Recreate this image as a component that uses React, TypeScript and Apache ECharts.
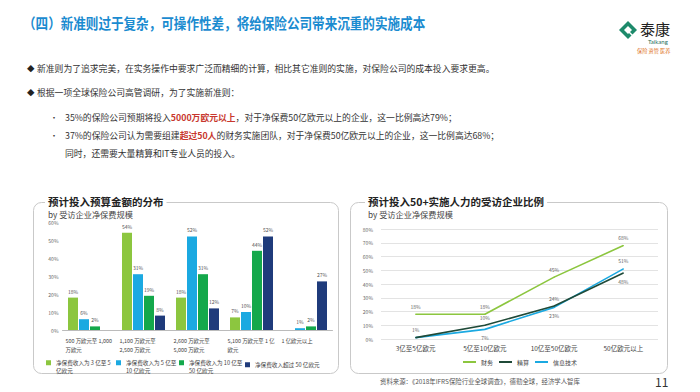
import React, { useEffect, useRef } from 'react';
import * as echarts from 'echarts';

// ---------- data ----------
const budgetCategories = [
  '500 万欧元至 1,000\n万欧元',
  '1,100 万欧元至\n2,500 万欧元',
  '2,600 万欧元至\n5,000 万欧元',
  '5,100 万欧元至 1 亿\n欧元',
  '1 亿欧元以上',
];
const budgetSeriesNames = [
  '净保费收入为 3 亿至 5 亿欧元',
  '净保费收入为 5 亿至 10 亿欧元',
  '净保费收入为 10 亿至 50 亿欧元',
  '净保费收入超过 50 亿欧元',
];
const budgetLegendLabels = [
  '净保费收入为 3 亿至 5\n亿欧元',
  '净保费收入为 5 亿至\n10 亿欧元',
  '净保费收入为 10 亿至\n50 亿欧元',
  '净保费收入超过 50 亿欧元',
];
const premium3to5 = [18, 54, 18, 7, null];
const premium5to10 = [6, 31, 52, 10, 1];
const premium10to50 = [2, 19, 31, 44, 2];
const premiumOver50 = [null, 8, 12, 52, 27];

const sizeCategories = ['3亿至5亿欧元', '5亿至10亿欧元', '10亿至50亿欧元', '50亿欧元以上'];
const staffSeriesNames = ['财务', '精算', '信息技术'];
const finance = [18, 18, 45, 68];
const actuarial = [1, 10, 24, 48];
const itTech = [1, 7, 23, 51];

const budgetTicks = [0, 10, 20, 30, 40, 50, 60];
const staffTicks = [0, 10, 20, 30, 40, 50, 60, 70, 80];

// ---------- styles ----------
const FONT = '"Noto Sans CJK SC", "Noto Sans", sans-serif';
const C_LGREEN = '#8cc63f';
const C_CYAN = '#1ba9e1';
const C_GREEN = '#14a84b';
const C_NAVY = '#1f3b7b';
const C_DARK = '#1f4a38';

// square marker sitting on the first of two text lines (path bbox 5 x 17)
const TOP_SQUARE_ICON = 'path://M0,0h0.01v0.01h-0.01z M0,1.75h5v5h-5z M4.99,16.99h0.01v0.01h-0.01z';

export default function App() {
  const ref = useRef<HTMLDivElement>(null);
  useEffect(() => {
    if (!ref.current) return;
    const chart = echarts.init(ref.current, undefined, { renderer: 'svg' });

    const barColors = [C_LGREEN, C_CYAN, C_GREEN, C_NAVY];
    const barData = [premium3to5, premium5to10, premium10to50, premiumOver50];
    const barSeries = budgetSeriesNames.map((name, i) => ({
      name,
      type: 'bar',
      xAxisIndex: 0,
      yAxisIndex: 0,
      barWidth: 10,
      barGap: '10%',
      itemStyle: { color: barColors[i] },
      label: {
        show: true,
        position: 'top',
        distance: 4,
        fontSize: 5,
        color: '#555',
        fontFamily: FONT,
        formatter: '{c}%',
      },
      data: barData[i].map((v) => (v === null ? '-' : v)),
    }));

    const labelPos = [
      ['top', 'top', 'top', 'top'],
      ['top', 'top', 'top', 'bottom'],
      [null, 'bottom', 'bottom', 'top'],
    ];
    const lineColors = [C_LGREEN, C_DARK, C_CYAN];
    const lineData = [finance, actuarial, itTech];
    const lineSeries = staffSeriesNames.map((name, i) => ({
      name,
      type: 'line',
      xAxisIndex: 1,
      yAxisIndex: 1,
      symbol: 'circle',
      symbolSize: 1,
      showSymbol: true,
      lineStyle: { color: lineColors[i], width: 1.6 },
      itemStyle: { color: lineColors[i] },
      z: 3 - i,
      data: lineData[i].map((v, j) => ({
        value: v,
        label: {
          show: labelPos[i][j] !== null,
          position: labelPos[i][j] || 'top',
          distance: 5,
          fontSize: 5,
          color: '#666',
          fontFamily: FONT,
          formatter: '{c}%',
        },
      })),
    }));

    const legendX = [46, 116, 179, 245];
    const budgetLegends = budgetSeriesNames.map((name, i) => {
      const twoLine = budgetLegendLabels[i].includes('\n');
      return {
        data: [name],
        left: legendX[i],
        top: twoLine ? 358.5 : 360.5,
        padding: 0,
        icon: twoLine ? TOP_SQUARE_ICON : 'rect',
        itemWidth: 5,
        itemHeight: twoLine ? 17 : 5,
        itemGap: 4,
        selectedMode: false,
        formatter: () => budgetLegendLabels[i],
        textStyle: {
          fontSize: 5.6,
          lineHeight: 8.5,
          color: '#444',
          fontFamily: FONT,
        },
      };
    });

    const txt = (x: number, y: number, text: string, extra: any = {}, z = 10) => ({
      type: 'text',
      x,
      y,
      z,
      style: {
        text,
        fontFamily: FONT,
        fontSize: 8.8,
        fill: '#333',
        verticalAlign: 'middle',
        ...extra,
      },
    });

    const option: any = {
      animation: false,
      backgroundColor: '#fff',
      textStyle: { fontFamily: FONT },
      grid: [
        { left: 62.5, top: 222, width: 270, height: 108 },
        { left: 381, top: 229, width: 277, height: 110 },
      ],
      xAxis: [
        {
          type: 'category',
          gridIndex: 0,
          data: budgetCategories,
          axisTick: { show: false },
          axisLine: { lineStyle: { color: '#bbb', width: 1 } },
          axisLabel: {
            interval: 0,
            margin: 6,
            formatter: (v: string) => v.split('\n').map((s) => `{a|${s}}`).join('\n'),
            rich: {
              a: { width: 48, align: 'left', fontSize: 5.4, lineHeight: 9, color: '#444', fontFamily: FONT },
            },
          },
        },
        {
          type: 'category',
          gridIndex: 1,
          data: sizeCategories,
          axisTick: { show: false },
          axisLine: { show: false },
          axisLabel: { interval: 0, margin: 6, fontSize: 6.5, color: '#444', fontFamily: FONT },
        },
      ],
      yAxis: [
        {
          type: 'value',
          gridIndex: 0,
          min: budgetTicks[0],
          max: budgetTicks[budgetTicks.length - 1],
          interval: 10,
          splitLine: { show: false },
          axisLine: { show: false },
          axisTick: { show: false },
          axisLabel: { fontSize: 5, color: '#666', margin: 4, formatter: '{value}%', fontFamily: FONT },
        },
        {
          type: 'value',
          gridIndex: 1,
          min: staffTicks[0],
          max: staffTicks[staffTicks.length - 1],
          interval: 10,
          splitLine: { lineStyle: { color: '#dcdcdc', width: 0.8 } },
          axisLine: { show: false },
          axisTick: { show: false },
          axisLabel: { fontSize: 5, color: '#666', margin: 8, formatter: '{value}%', fontFamily: FONT },
        },
      ],
      legend: [
        ...budgetLegends,
        {
          data: staffSeriesNames,
          left: 463,
          top: 359,
          padding: 0,
          icon: 'rect',
          itemWidth: 13,
          itemHeight: 2,
          itemGap: 6,
          selectedMode: false,
          textStyle: { fontSize: 6, color: '#444', fontFamily: FONT },
        },
      ],
      series: [...barSeries, ...lineSeries],
      graphic: {
        elements: [
          // panels
          {
            type: 'rect',
            z: 1,
            shape: { x: 33.5, y: 202.5, width: 305, height: 171, r: 8 },
            style: { fill: 'none', stroke: '#c9c9c9', lineWidth: 1 },
          },
          {
            type: 'rect',
            z: 1,
            shape: { x: 350.5, y: 202.5, width: 317, height: 171, r: 8 },
            style: { fill: 'none', stroke: '#c9c9c9', lineWidth: 1 },
          },
          txt(45, 201, '预计投入预算金额的分布', {
            fontSize: 10.5, fontWeight: 'bold', fill: '#222', backgroundColor: '#fff', padding: [1, 3],
          }),
          txt(48, 213.5, 'by 受访企业净保费规模', { fontSize: 8.2, fill: '#444' }),
          txt(365, 201, '预计投入50+实施人力的受访企业比例', {
            fontSize: 10.5, fontWeight: 'bold', fill: '#222', backgroundColor: '#fff', padding: [1, 3],
          }),
          txt(368, 213.5, 'by 受访企业净保费规模', { fontSize: 8.2, fill: '#444' }),
          // header title
          {
            type: 'text',
            x: 23,
            y: 23,
            scaleX: 0.88,
            z: 10,
            style: {
              text: '（四）新准则过于复杂，可操作性差，将给保险公司带来沉重的实施成本',
              fontFamily: FONT,
              fontSize: 14.3,
              fontWeight: 'bold',
              fill: '#1a8bd0',
              verticalAlign: 'middle',
            },
          },
          // bullets
          txt(27, 68, '◆', { fontSize: 7.5, fill: '#222' }),
          txt(37, 68, '新准则为了追求完美，在实务操作中要求广泛而精细的计算，相比其它准则的实施，对保险公司的成本投入要求更高。'),
          txt(27, 92, '◆', { fontSize: 7.5, fill: '#222' }),
          txt(37, 92, '根据一项全球保险公司高管调研，为了实施新准则：'),
          txt(50, 117, '•', { fontSize: 8, fill: '#333' }),
          {
            type: 'text',
            x: 65,
            y: 117,
            z: 10,
            style: {
              text: '35%的保险公司预期将投入{r|5000万欧元以上}，对于净保费50亿欧元以上的企业，这一比例高达79%；',
              fontFamily: FONT,
              fontSize: 8.8,
              fill: '#333',
              verticalAlign: 'middle',
              rich: { r: { fill: '#c8372d', fontWeight: 'bold', fontSize: 8.8, fontFamily: FONT } },
            },
          },
          txt(50, 135, '•', { fontSize: 8, fill: '#333' }),
          {
            type: 'text',
            x: 65,
            y: 135,
            z: 10,
            style: {
              text: '37%的保险公司认为需要组建{r|超过50人}的财务实施团队，对于净保费50亿欧元以上的企业，这一比例高达68%；',
              fontFamily: FONT,
              fontSize: 8.8,
              fill: '#333',
              verticalAlign: 'middle',
              rich: { r: { fill: '#c8372d', fontWeight: 'bold', fontSize: 8.8, fontFamily: FONT } },
            },
          },
          txt(65, 153, '同时，还需要大量精算和IT专业人员的投入。'),
          // footer
          txt(380, 381, '资料来源：《2018年IFRS保险行业全球调查》，德勤全球，经济学人智库', { fontSize: 6.4, fill: '#555' }),
          txt(655, 381, '11', { fontSize: 12, fill: '#333' }),
          // logo
          {
            type: 'polygon',
            z: 10,
            shape: { points: [[628, 21], [637, 30], [628, 39], [619, 30]] },
            style: { fill: '#1d8a6b' },
          },
          {
            type: 'polygon',
            z: 11,
            shape: { points: [[628, 26], [632, 30], [628, 34], [624, 30]] },
            style: { fill: '#fff' },
          },
          {
            type: 'polygon',
            z: 11,
            shape: { points: [[628, 30], [634, 36], [633, 37], [627, 31]] },
            style: { fill: '#fff' },
          },
          txt(640, 28, '泰康', { fontSize: 15, fill: '#222' }),
          txt(648, 41, 'Taikang', { fontSize: 6, fill: '#1d6e5a', fontFamily: 'Lato, sans-serif' }),
          txt(637, 50, '保险 资管 医养', { fontSize: 5.2, fill: '#e0762a' }),
        ],
      },
    };

    chart.setOption(option);
    return () => chart.dispose();
  }, []);

  return (
    <div
      ref={ref}
      style={{ position: 'absolute', left: 0, top: 0, width: 700, height: 392, background: '#fff' }}
    />
  );
}
